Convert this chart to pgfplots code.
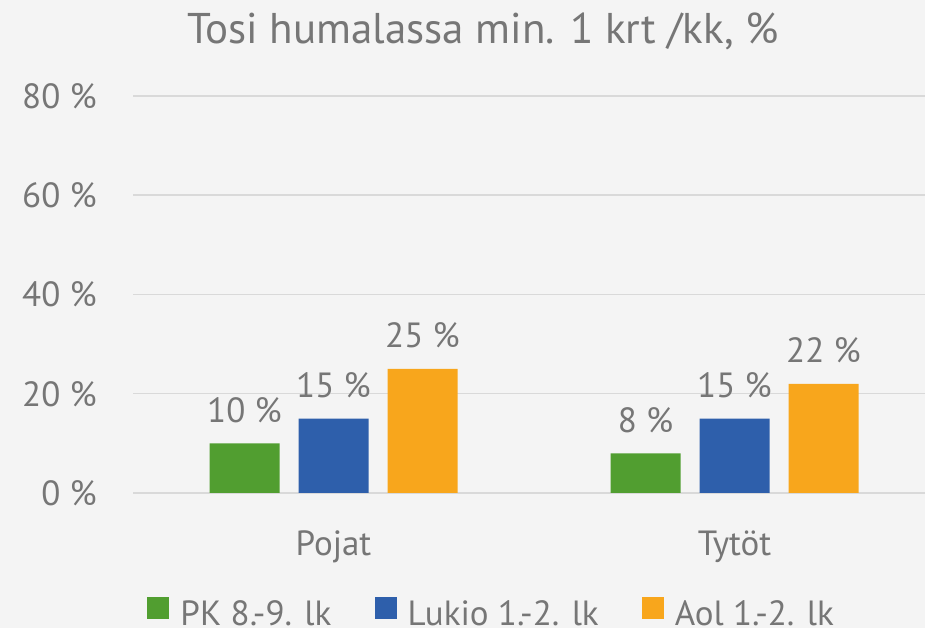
\documentclass[border=0pt]{standalone}
\usepackage{pgfplots}
\pgfplotsset{compat=1.18}
\usepackage{fontspec}
\setmainfont{PT Sans}
\definecolor{bg}{HTML}{F4F4F4}
\definecolor{grd}{HTML}{D9D9D9}
\definecolor{txt}{HTML}{767676}
\definecolor{cg}{HTML}{519E30}
\definecolor{cb}{HTML}{2E5FAB}
\definecolor{co}{HTML}{F8A61C}
\newcommand{\lblfont}{\fontsize{35}{42}\selectfont}
\pgfplotsset{sq legend/.style={legend image code/.code={\fill[##1] (0pt,-6pt) rectangle (22pt,16pt);}}}
\begin{document}
\begin{tikzpicture}[x=1pt,y=1pt]
\fill[bg] (0,0) rectangle (925,628);
\path[use as bounding box] (0,0) rectangle (925,628);
\node[anchor=base, text=txt, font=\fontsize{43}{50}\selectfont, inner sep=0pt] at (483,584) {Tosi humalassa min. 1 krt /kk, \%};
\begin{axis}[at={(133pt,135pt)}, anchor=south west, scale only axis, width=802pt, height=397pt,
 ymin=0, ymax=80, xmin=-0.5, xmax=1.5,
 ytick={0,20,40,60,80}, xtick={0,1}, xticklabels={Pojat,Tytöt},
 axis line style={draw=none}, major tick length=0pt,
 ymajorgrids, grid style={grd, line width=1.5pt},
 ticklabel style={text=txt, font=\lblfont},
 /pgf/number format/assume math mode=true,
 yticklabel={\pgfmathprintnumber{\tick}~\%},
 yticklabel style={anchor=east, inner sep=0pt, xshift=-36pt},
 xticklabel style={anchor=base, inner sep=0pt, yshift=-63pt},
 ybar, bar width=70pt,
 nodes near coords={\pgfmathprintnumber{\pgfplotspointmeta}~\%},
 every node near coord/.append style={text=txt, font=\lblfont, anchor=base, inner sep=0pt, yshift=21pt},
 legend columns=3, legend cell align=left,
 legend style={draw=none, fill=none, at={(0.446,-0.30)}, anchor=center, text=txt, font=\lblfont,
   nodes={inner sep=0pt}, /tikz/every odd column/.append style={column sep=11pt},
   /tikz/every even column/.append style={column sep=43pt}},
]
\addplot[fill=cg, draw=none, bar shift=-89pt, sq legend] coordinates {(0,10) (1,8)};
\addplot[fill=cb, draw=none, bar shift=0pt, sq legend] coordinates {(0,15) (1,15)};
\addplot[fill=co, draw=none, bar shift=89pt, sq legend] coordinates {(0,25) (1,22)};
\legend{PK 8.-9. lk, Lukio 1.-2. lk, Aol 1.-2. lk}
\end{axis}
\end{tikzpicture}
\end{document}
